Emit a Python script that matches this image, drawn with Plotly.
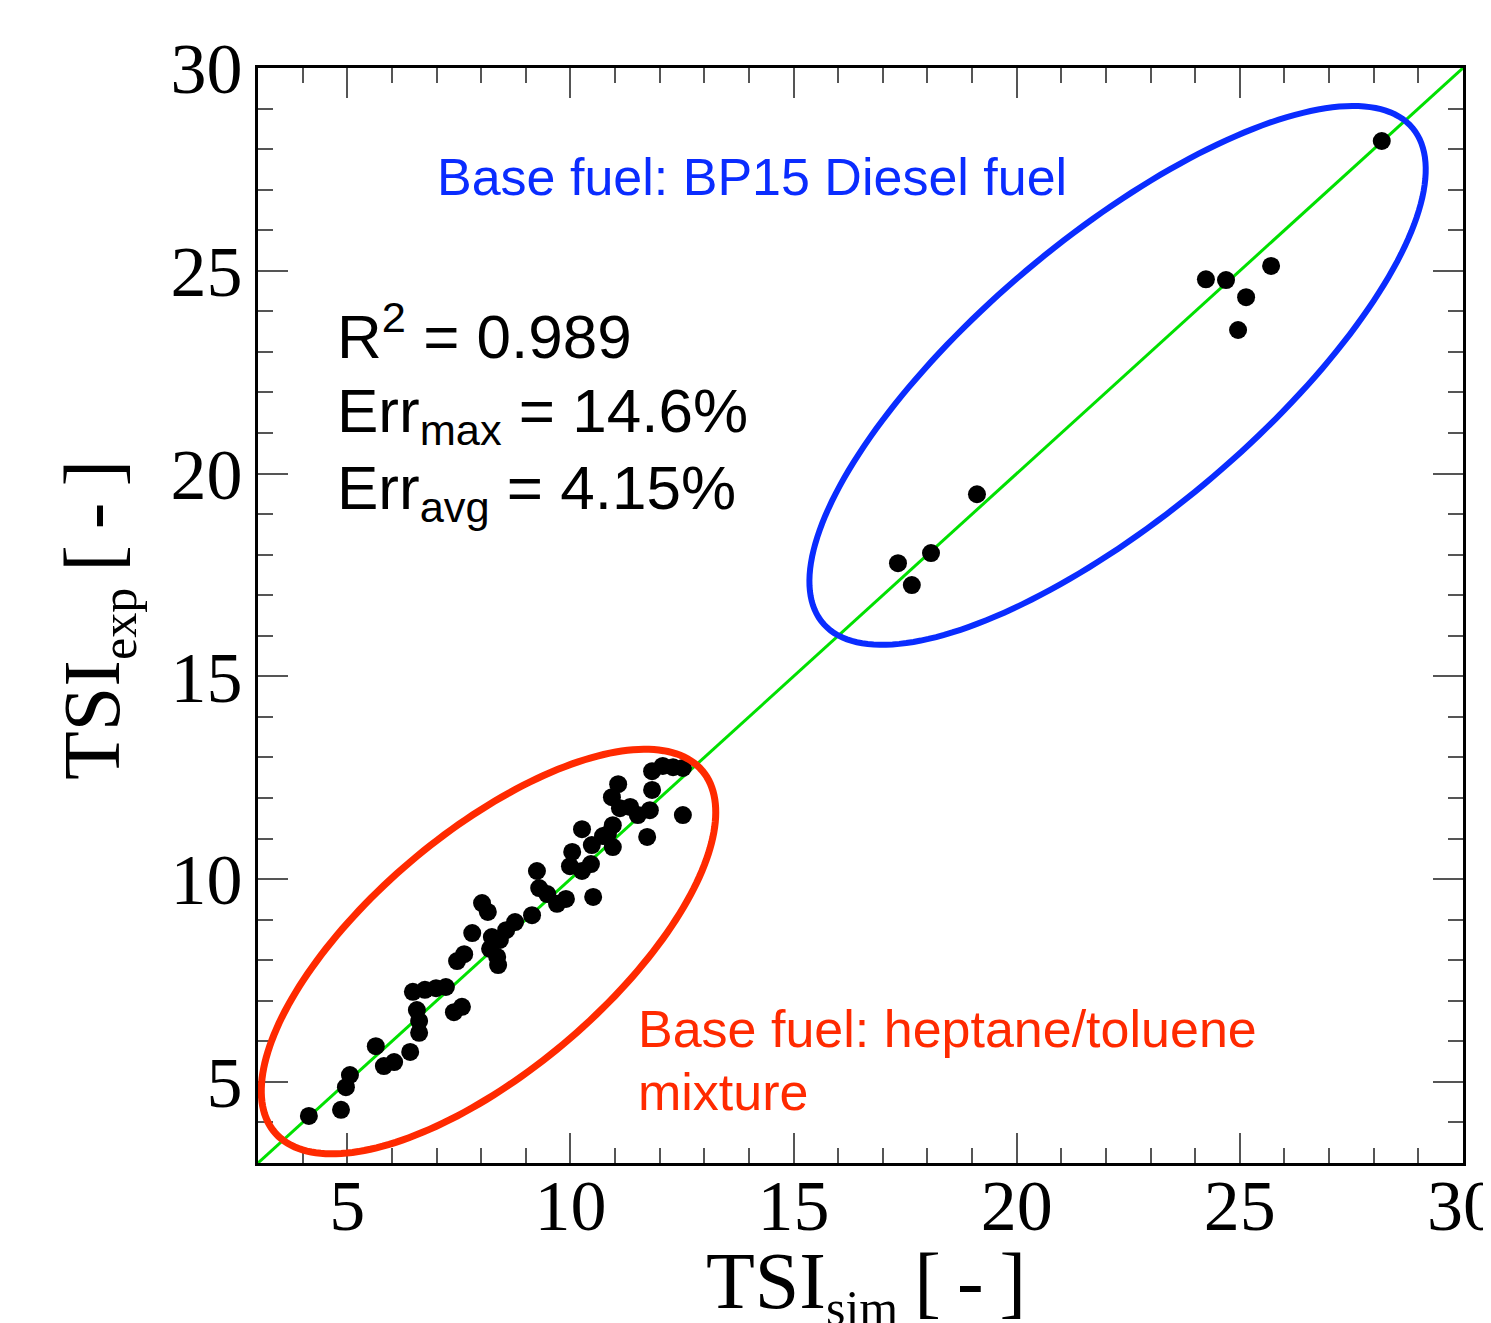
import numpy as np
import plotly.graph_objects as go

# ---------------- data ----------------
# heptane/toluene base-fuel mixtures (red group)
tsi_sim_ht = [4.14, 4.86, 4.97, 5.06, 5.64, 5.82, 6.05, 6.41, 6.61, 6.61,
              6.56, 6.47, 6.74, 6.99, 7.21, 7.39, 7.57, 7.46, 7.62, 7.80,
              8.02, 8.15, 8.24, 8.20, 8.36, 8.38, 8.42, 8.56, 8.76, 9.14,
              9.25, 9.30, 9.48, 9.70, 9.90, 9.99, 10.04, 10.26, 10.46, 10.51,
              10.48, 10.26, 10.73, 10.95, 10.84, 10.95, 11.07, 10.93, 11.11, 11.34,
              11.51, 11.72, 11.78, 11.83, 11.83, 12.07, 12.30, 12.52, 12.52]
tsi_exp_ht = [4.16, 4.31, 4.87, 5.17, 5.88, 5.39, 5.49, 5.74, 6.21, 6.50,
              6.77, 7.22, 7.27, 7.31, 7.34, 6.72, 6.85, 7.98, 8.15, 8.67,
              9.41, 9.19, 8.57, 8.28, 8.08, 7.88, 8.50, 8.74, 8.94, 9.11,
              10.20, 9.78, 9.63, 9.39, 9.51, 10.32, 10.67, 10.20, 10.37, 9.56,
              10.84, 11.23, 11.06, 10.79, 11.11, 11.33, 12.34, 12.02, 11.75, 11.78,
              11.58, 11.04, 11.70, 12.20, 12.66, 12.79, 12.76, 12.74, 11.58]
# BP15 diesel base fuel (blue group)
tsi_sim_bp = [28.18, 24.24, 24.69, 25.70, 25.14, 24.96, 19.11, 17.34, 18.08, 17.65]
tsi_exp_bp = [28.20, 24.79, 24.77, 25.12, 24.35, 23.54, 19.49, 17.79, 18.04, 17.25]

x_ticks = [5, 10, 15, 20, 25, 30]
y_ticks = [5, 10, 15, 20, 25, 30]
x_range = [3, 30]
y_range = [3, 30]

# ---------------- layout geometry (screen pixels) ----------------
W, H = 1491, 1323
PAGE_OFF = 8                      # default body margin of the page
ML, MR, MT, MB = 258, 28, 68, 160  # desired plot-area position on screen
PW = W - ML - MR
PH = H - MT - MB
SX = PW / (x_range[1] - x_range[0])
SY = PH / (y_range[1] - y_range[0])


def px_to_paper(px, py):
    return (px - ML) / PW, (MT + PH - py) / PH


def ellipse_path(cx, cy, a_px, b_px, ang_deg, n=200):
    t = np.linspace(0, 2 * np.pi, n)
    th = np.radians(ang_deg)
    dx = a_px * np.cos(t) * np.cos(th) - b_px * np.sin(t) * np.sin(th)
    dy = a_px * np.cos(t) * np.sin(th) + b_px * np.sin(t) * np.cos(th)
    xs = cx + dx / SX
    ys = cy + dy / SY
    return "M " + " L ".join(f"{x:.4f},{y:.4f}" for x, y in zip(xs, ys)) + " Z"


RED = "#ff2a00"
BLUE = "#0a2cff"
GREEN = "#00e000"

fig = go.Figure()

# parity line y = x across the axis range
fig.add_trace(go.Scatter(x=x_range, y=y_range, mode="lines",
                         line=dict(color=GREEN, width=3),
                         hoverinfo="skip", showlegend=False))

fig.add_trace(go.Scatter(x=tsi_sim_ht, y=tsi_exp_ht, mode="markers",
                         marker=dict(color="black", size=18),
                         showlegend=False))
fig.add_trace(go.Scatter(x=tsi_sim_bp, y=tsi_exp_bp, mode="markers",
                         marker=dict(color="black", size=18),
                         showlegend=False))

shapes = [
    dict(type="path", xref="x", yref="y",
         path=ellipse_path(8.165, 8.214, 280, 119, 40.2),
         line=dict(color=RED, width=7), layer="above"),
    dict(type="path", xref="x", yref="y",
         path=ellipse_path(22.26, 22.42, 385, 139, 40.0),
         line=dict(color=BLUE, width=6), layer="above"),
]

annotations = []


def add_text(text, px, py, size, color, family="Liberation Sans",
             xanchor="left", yanchor="middle", angle=0):
    xp, yp = px_to_paper(px, py)
    annotations.append(dict(text=text, x=xp, y=yp, xref="paper", yref="paper",
                            xanchor=xanchor, yanchor=yanchor, showarrow=False,
                            textangle=angle,
                            font=dict(family=family, size=size, color=color)))


add_text("Base fuel: BP15 Diesel fuel", 435, 177, 52, BLUE)
add_text("R<sup>2</sup> = 0.989", 335, 332, 62, "black")
add_text("Err<sub>max</sub> = 14.6%", 335, 415, 62, "black")
add_text("Err<sub>avg</sub> = 4.15%", 335, 492, 62, "black")
add_text("Base fuel: heptane/toluene", 636, 1029, 52, RED)
add_text("mixture", 636, 1092, 52, RED)

TS = "\u2009"
x_title = ("TSI<sub><span style='font-size:50px'>sim</span></sub>"
           + TS + "[" + TS + "-" + TS + "]")
y_title = ("TSI<sub><span style='font-size:50px'>exp</span></sub>"
           + TS + "[" + TS + "-" + TS + "]")
add_text(x_title, 866, 1286, 80, "black",
         family="Liberation Serif", xanchor="center")
add_text(y_title, 98, 620, 80, "black",
         family="Liberation Serif", xanchor="center", angle=-90)

axis_common = dict(
    ticks="inside", ticklen=30, tickwidth=2, tickcolor="#555555",
    showline=True, linecolor="black", linewidth=3, mirror="ticks",
    showgrid=False, zeroline=False, ticklabeloverflow="allow",
    automargin=False,
    tickfont=dict(family="Liberation Serif", size=72, color="black"),
    minor=dict(tickmode="linear", tick0=0, dtick=1, ticks="inside",
               ticklen=15, tickwidth=2, tickcolor="#555555", showgrid=False),
)

fig.update_layout(
    width=W, height=H,
    margin=dict(l=ML - PAGE_OFF, r=MR + PAGE_OFF, t=MT - PAGE_OFF,
                b=MB + PAGE_OFF, autoexpand=False),
    paper_bgcolor="white", plot_bgcolor="white",
    xaxis=dict(range=x_range, tickvals=x_ticks, ticklabelstandoff=-22,
               **axis_common),
    yaxis=dict(range=y_range, tickvals=y_ticks, ticklabelstandoff=-2,
               **axis_common),
    shapes=shapes, annotations=annotations,
    showlegend=False,
)

fig.write_html("out.html")
